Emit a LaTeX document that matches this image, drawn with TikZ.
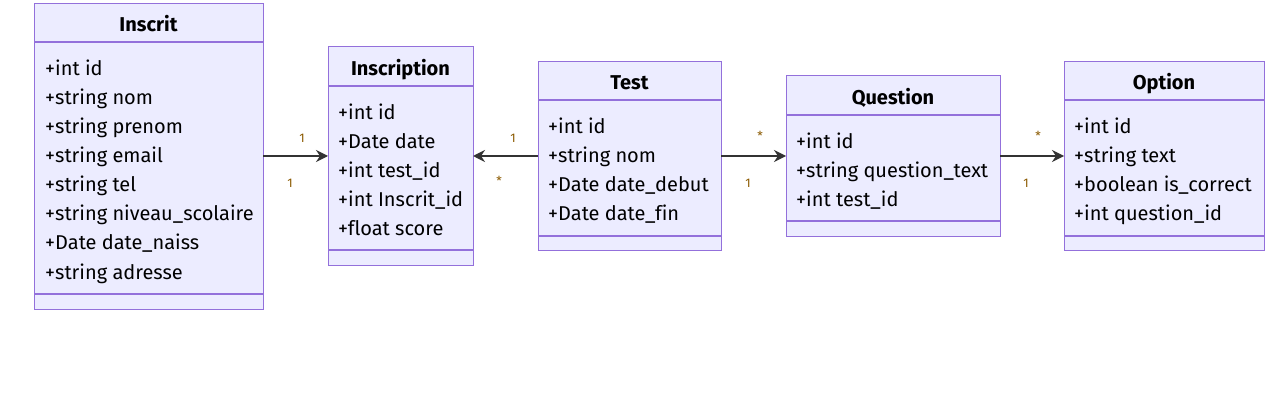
\documentclass[tikz,border=0pt]{standalone}
\usepackage{fontspec}
\setmainfont{Fira Sans}[Ligatures={NoCommon}]
\usetikzlibrary{arrows.meta}
\definecolor{boxfill}{HTML}{ECECFF}
\definecolor{boxline}{HTML}{9370DB}
\definecolor{edge}{HTML}{333333}
\definecolor{lbl}{HTML}{8B5A00}
\tikzset{
  cls/.style={draw=boxline, fill=boxfill, line width=1.2pt, inner sep=0pt},
  attr/.style={anchor=base west, inner sep=0pt, font=\fontsize{20}{20}\selectfont, text=black},
  title/.style={anchor=base, inner sep=0pt, font=\fontsize{20}{20}\selectfont\bfseries, text=black},
  rel/.style={draw=edge, line width=1.5pt, -{Stealth[length=12pt,width=12pt,inset=4pt]}},
  card/.style={inner sep=0pt, font=\fontsize{12.5}{12.5}\selectfont, text=lbl},
}
\newcommand{\umlclass}[8]{% name, x1, y1, x2, y2, yhead, ybottom, title
  \node[cls, minimum width={#4-#2}, minimum height={#5-#3}, anchor=north west] (#1) at (#2,#3) {};
  \draw[boxline, line width=1.2pt] (#2,#6) -- (#4,#6);
  \draw[boxline, line width=1.2pt] (#2,#7) -- (#4,#7);
  \node[title] (#1-t) at ({(#2+#4)/2},{#6-10}) {#8};
}
\begin{document}
\begin{tikzpicture}[x=1pt,y=-1pt]
\useasboundingbox (0,0) rectangle (1285,406);
\fill[white] (0,0) rectangle (1285,406);
% Inscrit
\umlclass{inscrit}{34}{3}{263}{309}{42}{294}{Inscrit}
\foreach \t [count=\i from 0] in {+int id,+string nom,+string prenom,+string email,+string tel,+string niveau\_scolaire,+Date date\_naiss,+string adresse}
  \node[attr] (inscrit-a\i) at (45,{76+29*\i}) {\t};
% Inscription
\umlclass{inscription}{328}{46}{473}{265}{86}{250}{Inscription}
\foreach \t [count=\i from 0] in {+int id,+Date date,+int test\_id,+int Inscrit\_id,+float score}
  \node[attr] (inscription-a\i) at (338,{120+29*\i}) {\t};
% Test
\umlclass{test}{538}{61}{721}{250}{100}{236}{Test}
\foreach \t [count=\i from 0] in {+int id,+string nom,+Date date\_debut,+Date date\_fin}
  \node[attr] (test-a\i) at (548,{134+29*\i}) {\t};
% Question
\umlclass{question}{786}{75}{1000}{236}{115}{221}{Question}
\foreach \t [count=\i from 0] in {+int id,+string question\_text,+int test\_id}
  \node[attr] (question-a\i) at (796,{149+29*\i}) {\t};
% Option
\umlclass{option}{1064}{61}{1264}{250}{100}{236}{Option}
\foreach \t [count=\i from 0] in {+int id,+string text,+boolean is\_correct,+int question\_id}
  \node[attr] (option-a\i) at (1074,{134+29*\i}) {\t};
% relations
\coordinate (c1) at (263,156); \coordinate (c2) at (328,156);
\coordinate (c3) at (538,156); \coordinate (c4) at (473,156);
\coordinate (c5) at (721,156); \coordinate (c6) at (786,156);
\coordinate (c7) at (1000,156); \coordinate (c8) at (1064,156);
\draw[rel] (c1) -- (c2);
\draw[rel] (c3) -- (c4);
\draw[rel] (c5) -- (c6);
\draw[rel] (c7) -- (c8);
% cardinalities
\node[card] (l1) at (302,138) {1};
\node[card] (l2) at (290,183) {1};
\node[card] (l3) at (513,138) {1};
\node[card] (l4) at (499,181) {*};
\node[card] (l5) at (760,136) {*};
\node[card] (l6) at (748,183) {1};
\node[card] (l7) at (1038,136) {*};
\node[card] (l8) at (1026,183) {1};
\end{tikzpicture}
\end{document}
